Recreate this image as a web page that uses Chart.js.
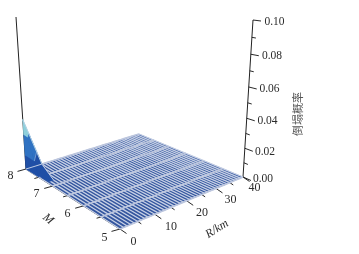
<!DOCTYPE html>
<html><head><meta charset="utf-8">
<style>html,body{margin:0;padding:0;background:#fff}canvas{display:block}</style>
<script src="https://cdn.jsdelivr.net/npm/chart.js@4"></script></head>
<body><canvas id="c" width="359" height="254"></canvas>
<script>
const rValues=[0,1,2,3,4,5,6,7,8,9,10,11,12,13,14,15,16,17,18,19,20,21,22,23,24,25,26,27,28,29,30,31,32,33,34,35,36,37,38,39,40];
const mValues=[5,5.5,6,6.5,7,7.5,8];
const zeros41=[0,0,0,0,0,0,0,0,0,0,0,0,0,0,0,0,0,0,0,0,0,0,0,0,0,0,0,0,0,0,0,0,0,0,0,0,0,0,0,0,0];
const probM5=zeros41, probM55=zeros41, probM6=zeros41, probM65=zeros41, probM7=zeros41, probM75=zeros41;
const probM8=[0.035,0.028,0.021,0.014,0.007,0,0,0,0,0,0,0,0,0,0,0,0,0,0,0,0,0,0,0,0,0,0,0,0,0,0,0,0,0,0,0,0,0,0,0,0];
const probRows=[probM5,probM55,probM6,probM65,probM7,probM75,probM8];
const rTicks=[0,10,20,30,40], rMinor=[5,15,25,35];
const mTicks=[5,6,7,8], mMinor=[5.5,6.5,7.5];
const zTicks=[0,0.02,0.04,0.06,0.08,0.10], zMinor=[0.01,0.03,0.05,0.07,0.09];
const bandLevels=[0,0.01,0.0245,0.035];
const bandColors=['#1f4fa6','#2f72c2','#8fd0dc'];
const spikeFootM=7.2, spikeFootR=2;
const zLabels=['0.00','0.02','0.04','0.06','0.08','0.10'];

// camera: projected corners of the box (R, M plane + vertical)
const A=[26,169],D=[139,134],C=[243,177],B=[120,229],topA=[16,17],topC=[253,20];
const dx1=D[0]-C[0],dx2=B[0]-C[0],sx=A[0]-D[0]+C[0]-B[0],dy1=D[1]-C[1],dy2=B[1]-C[1],sy=A[1]-D[1]+C[1]-B[1];
const den=dx1*dy2-dx2*dy1,g=(sx*dy2-dx2*sy)/den,h=(dx1*sy-sx*dy1)/den;
const a=D[0]-A[0]+g*D[0],b=B[0]-A[0]+h*B[0],d=D[1]-A[1]+g*D[1],e=B[1]-A[1]+h*B[1];
function proj(R,M,P){
  const u=R/40,v=(8-M)/3,w=g*u+h*v+1;
  const x=(a*u+b*v+A[0])/w,y=(d*u+e*v+A[1])/w;
  const t=(x-A[0])/(C[0]-A[0]);
  const vx=(topA[0]-A[0])*(1-t)+(topC[0]-C[0])*t,vy=(topA[1]-A[1])*(1-t)+(topC[1]-C[1])*t;
  const z=P/0.1,f=z*0.896/(1-0.104*z);
  return {x:x+vx*f,y:y+vy*f};
}
const ds=[];
function line(pts,color,width){ds.push({data:pts,showLine:true,fill:false,borderColor:color,borderWidth:width,pointRadius:0,borderCapStyle:'butt',tension:0});}
function poly(pts,color){pts=pts.concat([pts[0]]);ds.push({data:pts,showLine:true,fill:'shape',backgroundColor:color,borderColor:color,borderWidth:0.3,pointRadius:0,tension:0});}
function off(p,dx,dy){return {x:p.x+dx,y:p.y+dy};}
function tick(p,dx,dy,c,w){line([p,off(p,dx,dy)],c||'#111',w||0.9);}

// axes
line([proj(0,8,0),proj(0,8,0.1)],'#222',1);
line([proj(40,5,0),proj(40,5,0.1)],'#222',1);
line([proj(0,8,0),proj(0,5,0)],'#111',1.3);
zTicks.forEach(z=>tick(proj(40,5,z),8,1+2.5*(1-z/0.1)));
zMinor.forEach(z=>tick(proj(40,5,z),4,0.6+1.2*(1-z/0.1)));
mTicks.forEach(m=>tick(proj(0,m,0),-8.5,2.4));
mMinor.forEach(m=>tick(proj(0,m,0),-4.5,1.3));
rTicks.forEach(r=>tick(proj(r,5,0),6.5,4.5));
rMinor.forEach(r=>tick(proj(r,5,0),3.5,2.4));

// surface cells
for(let i=0;i<mValues.length-1;i++){
  for(let j=0;j<rValues.length-1;j++){
    poly([proj(rValues[j],mValues[i],0),proj(rValues[j+1],mValues[i],0),proj(rValues[j+1],mValues[i+1],0),proj(rValues[j],mValues[i+1],0)],'#34569f');
  }
}
// mesh lines
rValues.forEach((r,j)=>line(mValues.map((m,i)=>proj(r,m,0)),'#c6d0e5',1.3));
mValues.forEach((m,i)=>line(rValues.map(r=>proj(r,m,0)),'#bcc6de',1.7));
// peak at the M=8, R=0 corner: footprint, then height bands on both walls
const peak=probM8[0],rEnd=rValues[probM8.indexOf(0)],mEnd=mValues[mValues.length-2];
poly([proj(0,8,0),proj(rEnd,8,0),proj(spikeFootR,spikeFootM,0),proj(0.6,spikeFootM,0)],bandColors[0]);
line([proj(rEnd,8,0),proj(spikeFootR,spikeFootM,0)],'#c6d0e5',1);
for(let k=0;k<bandColors.length;k++){
  const l0=bandLevels[k],l1=bandLevels[k+1],f0=l0/peak,f1=l1/peak;
  poly([proj(rEnd*(1-f0),8,l0),proj(rEnd*(1-f1),8,l1),proj(0,8,l1),proj(0,8,l0)],bandColors[k]);
  poly([proj(0,8,l0),proj(0,8,l1),proj(0,8-(8-mEnd)*(1-f1),l1),proj(0,8-(8-mEnd)*(1-f0),l0)],bandColors[k]);
  poly([proj(rEnd*(1-f0),8,l0),proj(rEnd*(1-f1),8,l1),proj(0,8-(8-mEnd)*(1-f1),l1),proj(0,8-(8-mEnd)*(1-f0),l0)],bandColors[k]);
}
line([proj(0,8,peak),proj(rEnd,8,0)],'#b4d2e4',1);
line([proj(0,8,0),proj(rEnd,8,0)],'#cfd8ea',0.9);
line([proj(0,8-(8-mEnd)*0.72,bandLevels[1]),proj(rEnd*0.72,8,bandLevels[1])],'#8fb0da',0.7);
ds.forEach((s,i)=>s.order=ds.length-i);

const textPlugin={id:'texts',afterDraw(c){
  const x=c.ctx;x.save();x.fillStyle='#2b2b2b';x.textBaseline='middle';x.textAlign='center';
  const serif='"Liberation Serif",serif';
  x.font='11.5px '+serif;
  const zPos=[[263,179],[265,152],[267.5,121],[269.5,89],[272,56],[274.5,22]];
  zLabels.forEach((s,i)=>x.fillText(s,zPos[i][0],zPos[i][1]));
  x.font='12px '+serif;
  const rPos=[[133.5,242],[171,227],[202,213],[230.5,200],[254.5,188]];
  rTicks.forEach((r,i)=>x.fillText(String(r),rPos[i][0],rPos[i][1]));
  const mPos=[[104.5,238],[67.5,214],[36.5,194],[10.5,176]];
  mTicks.forEach((m,i)=>x.fillText(String(m),mPos[i][0],mPos[i][1]));
  x.save();x.translate(48,219);x.rotate(40*Math.PI/180);x.font='italic 12px '+serif;x.fillText('M',0,0);x.restore();
  x.save();x.translate(217,229);x.rotate(-32*Math.PI/180);x.font='italic 12px '+serif;x.fillText('R/km',0,0);x.restore();
  x.save();x.translate(297.5,114);x.rotate(-Math.PI/2);x.font='11px "Noto Sans CJK SC"';x.fillStyle='#555';x.fillText('倒塌概率',0,0);x.restore();
  x.restore();
}};
new Chart(document.getElementById('c'),{type:'scatter',data:{datasets:ds},plugins:[textPlugin],options:{
  responsive:false,animation:false,layout:{padding:0},
  plugins:{legend:{display:false},tooltip:{enabled:false}},
  scales:{x:{type:'linear',min:0,max:359,display:false},y:{type:'linear',min:0,max:254,reverse:true,display:false}}
}});
</script></body></html>
